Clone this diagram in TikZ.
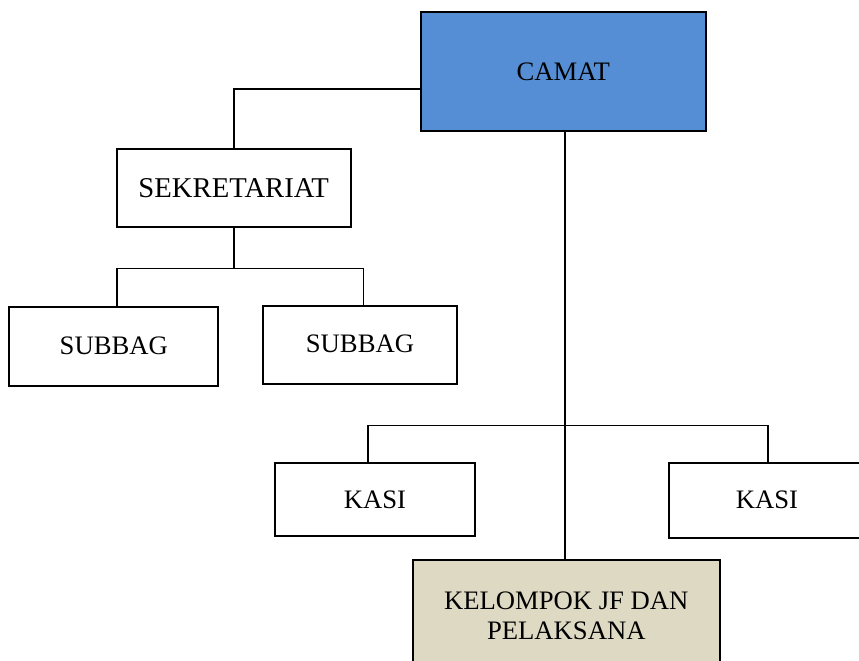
\documentclass[tikz,border=0pt]{standalone}
\usepackage{fontspec}
\setmainfont{Liberation Serif}
\def\pxu{0.75pt}
\definecolor{headblue}{RGB}{85,142,213}
\definecolor{groupbeige}{RGB}{221,217,195}
\tikzset{
  unit/.style={draw=black, line width=1.5pt, rectangle, inner sep=0pt,
    align=center, font=\fontsize{20pt}{22.5pt}\selectfont},
  link/.style={line width=1.2pt, line cap=rect},
}
\begin{document}
\begin{tikzpicture}[x=0.75pt, y=-0.75pt]
  \useasboundingbox (0,0) rectangle (859,660);
  \clip (0,0) rectangle (859,660);

  % boxes
  \node[unit, fill=headblue, minimum width=285*\pxu, minimum height=118.4*\pxu] (camat) at (563.2,71.5) {CAMAT};
  \node[unit, font=\fontsize{21.5pt}{24pt}\selectfont, minimum width=234*\pxu, minimum height=77.7*\pxu] (sek) at (233.7,187.9) {SEKRETARIAT};
  \node[unit, minimum width=209*\pxu, minimum height=79*\pxu] (sub1) at (113.8,346.2) {SUBBAG};
  \node[unit, minimum width=194.6*\pxu, minimum height=78.3*\pxu] (sub2) at (360,344.9) {\raisebox{1.5pt}{SUBBAG}};
  \node[unit, minimum width=200*\pxu, minimum height=72.7*\pxu] (kasi1) at (375,499.7) {KASI};
  \node[unit, minimum width=196*\pxu, minimum height=75*\pxu] (kasi2) at (767,500.8) {\raisebox{2pt}{KASI}};
  \node[unit, fill=groupbeige, minimum width=307.3*\pxu, minimum height=112*\pxu] (kel) at (566.3,616) {KELOMPOK JF DAN\\PELAKSANA};

  % bus lines
  \coordinate (tap) at (0,89);
  \coordinate (b1l) at (116.7,268.5);
  \coordinate (b1r) at (363.3,268.5);
  \coordinate (b2l) at (368,425.5);
  \coordinate (b2r) at (767.8,425.5);

  % connectors
  \draw[link] (camat.west |- tap) -| (sek.north);
  \draw[link] (sek.south) -- (sek.south |- b1l);
  \draw[link] (b1l) -- (b1r);
  \draw[link] (b1l) -- (b1l |- sub1.north);
  \draw[link] (b1r) -- (b1r |- sub2.north);
  \draw[link, line width=1.5pt] ([xshift=1.3pt]camat.south) -- ([xshift=1.3pt]camat.south |- kel.north);
  \draw[link] (b2l) -- (b2r);
  \draw[link] (b2l) -- (b2l |- kasi1.north);
  \draw[link] (b2r) -- (b2r |- kasi2.north);
\end{tikzpicture}
\end{document}
